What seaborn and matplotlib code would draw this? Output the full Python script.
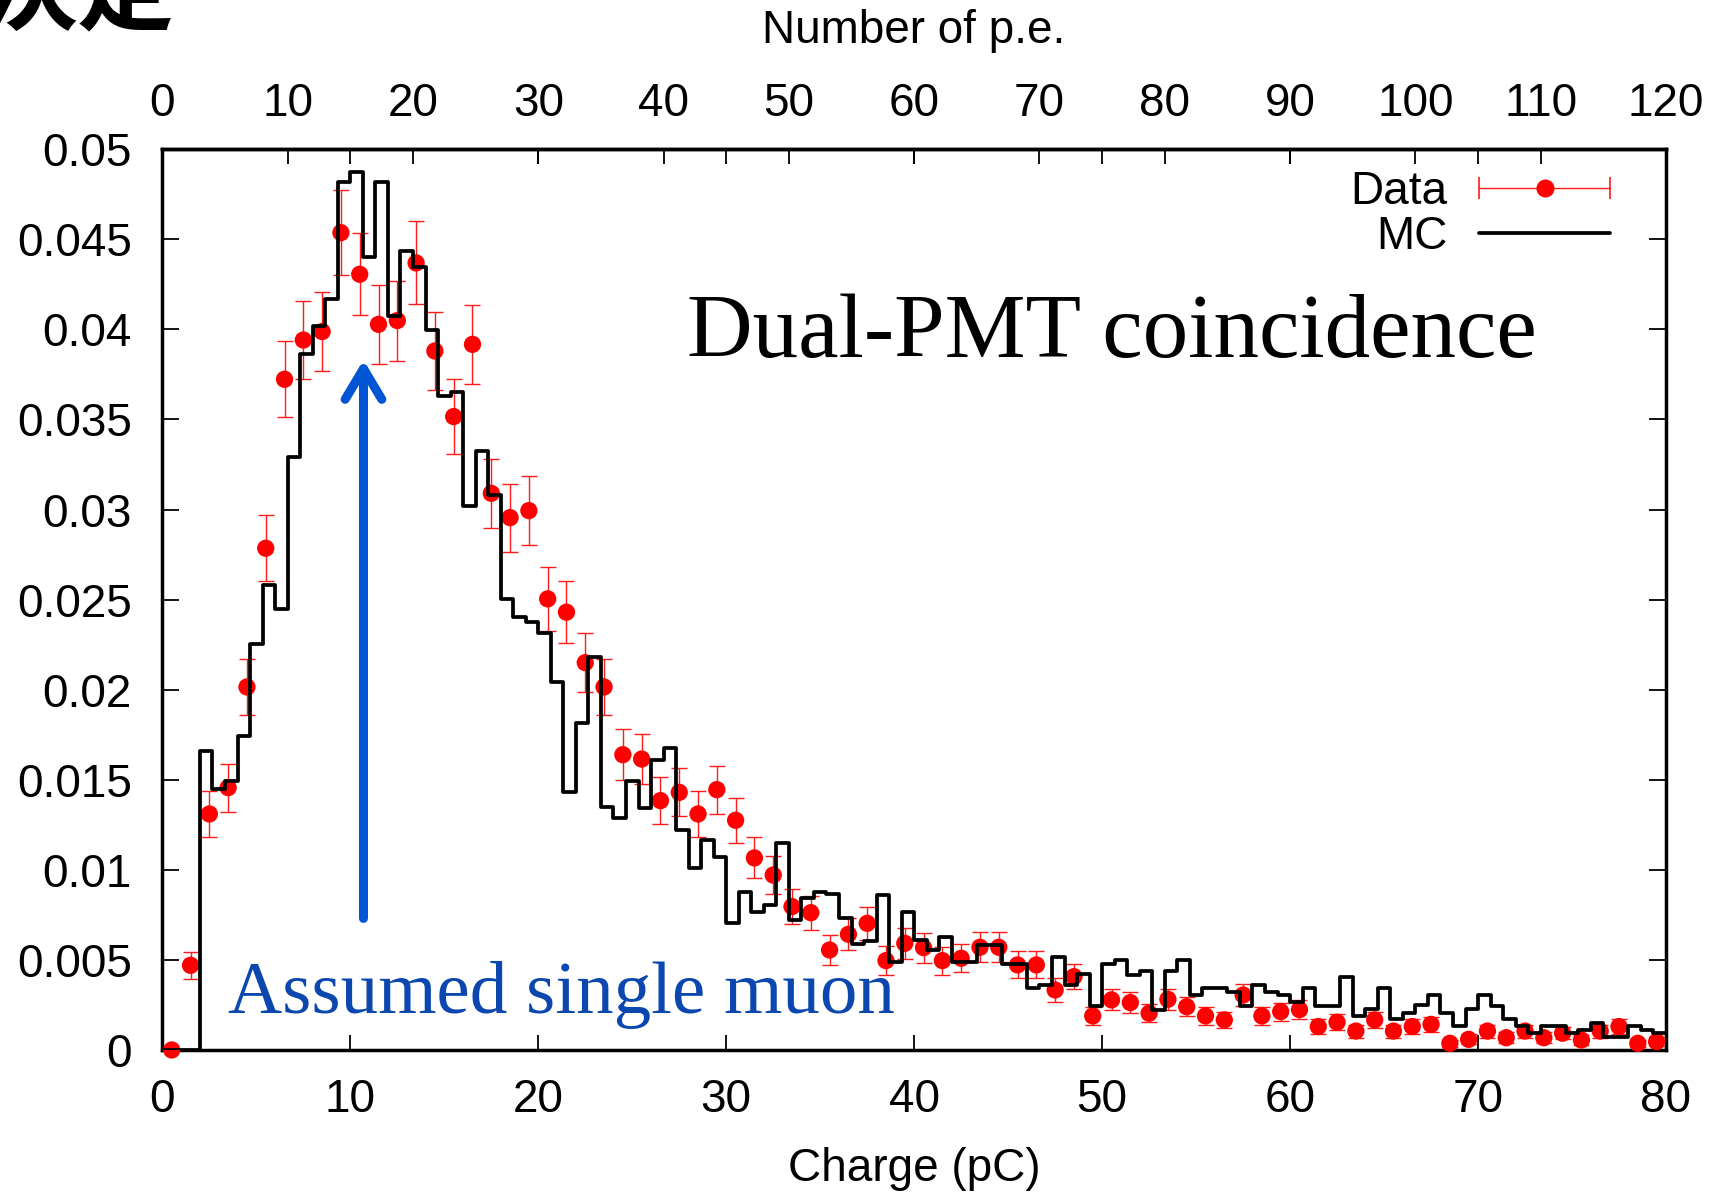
import numpy as np
import pandas as pd
import matplotlib
matplotlib.use("Agg")
import matplotlib.pyplot as plt
import seaborn as sns
from matplotlib.lines import Line2D
from matplotlib.legend_handler import HandlerLine2D, HandlerTuple

# ---------------- data ----------------
# Data: 1 pC bins (centres 0.5 ... 79.5)
data_vals = [0.0, 0.0047, 0.0131, 0.01456, 0.02015, 0.02785, 0.03723, 0.03941, 0.03988, 0.04537,
             0.04306, 0.04028, 0.04049, 0.04369, 0.0388, 0.03516, 0.03917, 0.0309, 0.02955, 0.02994,
             0.02504, 0.0243, 0.0215, 0.02015, 0.01639, 0.01615, 0.01384, 0.0143, 0.0131, 0.01445,
             0.01275, 0.01066, 0.00971, 0.00796, 0.00762, 0.00555, 0.00642, 0.00703, 0.00496, 0.00592,
             0.00568, 0.00496, 0.00509, 0.0057, 0.0057, 0.00472, 0.00472, 0.00333, 0.00407, 0.00189,
             0.00278, 0.00263, 0.00204, 0.00281, 0.0024, 0.00189, 0.00167, 0.00305, 0.00189, 0.00213,
             0.00224, 0.0013, 0.00154, 0.00105, 0.00167, 0.00105, 0.0013, 0.00142, 0.00037, 0.00059,
             0.00105, 0.00068, 0.00105, 0.00068, 0.00093, 0.00055, 0.00105, 0.0013, 0.00037, 0.00046]
data_errs = [0.0, 0.00075, 0.00127, 0.00134, 0.00157, 0.00183, 0.00212, 0.00218, 0.0022, 0.00235,
             0.00228, 0.00218, 0.00222, 0.0023, 0.00217, 0.00207, 0.00219, 0.00193, 0.00189, 0.00191,
             0.00176, 0.00172, 0.00163, 0.00157, 0.00141, 0.00141, 0.0013, 0.00133, 0.00127, 0.00133,
             0.00124, 0.00114, 0.00107, 0.00098, 0.00094, 0.00083, 0.00088, 0.00091, 0.0008, 0.00085,
             0.00083, 0.00078, 0.00077, 0.00083, 0.00083, 0.00075, 0.00075, 0.00064, 0.0007, 0.00048,
             0.00058, 0.00056, 0.0005, 0.00058, 0.00054, 0.00048, 0.00045, 0.0006, 0.00048, 0.0005,
             0.00052, 0.0004, 0.00043, 0.00036, 0.00045, 0.00036, 0.0004, 0.00041, 0.00021, 0.00027,
             0.00036, 0.00029, 0.00036, 0.00029, 0.00034, 0.00026, 0.00036, 0.0004, 0.00021, 0.00024]
data_centres = [i + 0.5 for i in range(80)]

# MC: 1 p.e. bins (120 bins, 1 p.e. = 2/3 pC)
mc_vals = [0.0, 0.0, 0.0, 0.01662, 0.01451, 0.01493, 0.01745, 0.02252, 0.02581, 0.02446,
           0.0329, 0.03862, 0.04019, 0.04169, 0.0482, 0.04876, 0.044, 0.0482, 0.04077, 0.04437,
           0.04349, 0.03997, 0.0363, 0.03655, 0.0302, 0.03327, 0.03081, 0.02504, 0.02405, 0.02378,
           0.02317, 0.02045, 0.01434, 0.01817, 0.0218, 0.01351, 0.01286, 0.01493, 0.01342, 0.0161,
           0.01678, 0.01221, 0.01008, 0.01166, 0.01073, 0.00703, 0.00879, 0.00768, 0.00805, 0.01147,
           0.00722, 0.00842, 0.00879, 0.00864, 0.00731, 0.00587, 0.00605, 0.0086, 0.0049, 0.00768,
           0.00611, 0.00555, 0.00629, 0.0049, 0.0049, 0.00583, 0.00583, 0.00477, 0.00477, 0.00342,
           0.00361, 0.00514, 0.00361, 0.00422, 0.00244, 0.00477, 0.005, 0.00416, 0.0044, 0.00222,
           0.0044, 0.005, 0.00305, 0.00342, 0.00342, 0.00324, 0.00244, 0.00361, 0.00324, 0.00305,
           0.00268, 0.00342, 0.00244, 0.00244, 0.00403, 0.00189, 0.00226, 0.00342, 0.0017, 0.00207,
           0.0025, 0.00305, 0.00207, 0.00133, 0.00226, 0.00305, 0.00244, 0.0017, 0.00133, 0.00093,
           0.00133, 0.00133, 0.00093, 0.00111, 0.00148, 0.00074, 0.00074, 0.00133, 0.00111, 0.00093]
PE_PER_PC = 1.5
mc_edges = [k / PE_PER_PC for k in range(121)]
mc_centres = [(k + 0.5) / PE_PER_PC for k in range(120)]

x_ticks = [0, 10, 20, 30, 40, 50, 60, 70, 80]
pe_ticks = [0, 10, 20, 30, 40, 50, 60, 70, 80, 90, 100, 110, 120]
y_ticks = [0, 0.005, 0.01, 0.015, 0.02, 0.025, 0.03, 0.035, 0.04, 0.045, 0.05]
y_labels = ["0", "0.005", "0.01", "0.015", "0.02", "0.025", "0.03", "0.035", "0.04", "0.045", "0.05"]

arrow_x = 10.7
arrow_y0, arrow_y1 = 0.0073, 0.0383

# ---------------- style ----------------
sns.set_theme(style="white")
plt.rcParams["font.family"] = ["Liberation Sans", "DejaVu Sans"]
for k in ["text.color", "axes.labelcolor", "xtick.color", "ytick.color", "axes.edgecolor"]:
    plt.rcParams[k] = "black"
FS = 33

fig = plt.figure(figsize=(17.2, 11.93), dpi=100)
ax = fig.add_axes([0.0944, 0.1199, 0.9686 - 0.0944, 0.8749 - 0.1199])

df_mc = pd.DataFrame({"x": mc_centres, "w": mc_vals})
df_data = pd.DataFrame({"x": data_centres, "y": data_vals, "e": data_errs})

# Data error bars + points
ax.errorbar(df_data["x"], df_data["y"], yerr=df_data["e"], fmt="none",
            ecolor="#ff1a1a", elinewidth=1.0, capsize=5.8, capthick=1.0, zorder=2)
sns.scatterplot(data=df_data, x="x", y="y", ax=ax, color="#ff0000", s=155,
                edgecolor="none", zorder=3, clip_on=False, legend=False)

# MC histogram (step)
sns.histplot(data=df_mc, x="x", weights="w", bins=mc_edges, element="step",
             fill=False, color="black", linewidth=2.7, ax=ax, zorder=4)

ax.set_xlim(0, 80)
ax.set_ylim(0, 0.05)
ax.set_xticks(x_ticks)
ax.set_xticklabels([str(t) for t in x_ticks])
ax.set_yticks(y_ticks)
ax.set_yticklabels(y_labels)
ax.set_xlabel("Charge (pC)", fontsize=FS, labelpad=18, color="black")
ax.set_ylabel("")

for s in ax.spines.values():
    s.set_linewidth(2.5)
    s.set_color("black")

ax.tick_params(axis="x", which="both", direction="in", length=11, width=1.3,
               top=True, bottom=True, labeltop=False, labelsize=FS, pad=20,
               colors="black", labelcolor="black")
ax.tick_params(axis="y", which="both", direction="in", length=12, width=1.3,
               left=True, right=True, labelsize=FS, pad=22, colors="black", labelcolor="black")

secax = ax.secondary_xaxis("top", functions=(lambda x: x * PE_PER_PC, lambda p: p / PE_PER_PC))
secax.set_xticks(pe_ticks)
secax.set_xticklabels([str(t) for t in pe_ticks])
secax.tick_params(axis="x", direction="in", length=11, width=1.3, labelsize=FS, pad=17,
                  colors="black", labelcolor="black")
secax.spines["top"].set_linewidth(2.5)
secax.set_xlabel("Number of p.e.", fontsize=FS, labelpad=28, color="black")

# Arrow and annotations
ax.annotate("", xy=(arrow_x, arrow_y1), xytext=(arrow_x, arrow_y0),
            arrowprops=dict(arrowstyle="->,head_length=0.5,head_width=0.3", lw=6.5,
                            color="#0055d4", shrinkA=0, shrinkB=0, mutation_scale=44,
                            joinstyle="round", capstyle="round"), zorder=5)

fig.text(687 / 1720, 1 - 357 / 1193, "Dual-PMT coincidence", fontsize=65.5,
         family=["Liberation Serif", "DejaVu Serif"], color="black", ha="left", va="baseline")
fig.text(228 / 1720, 1 - 1013 / 1193, "Assumed single muon", fontsize=54,
         family=["Liberation Serif", "DejaVu Serif"], color="#0b47ae", ha="left", va="baseline")

# Cropped slide title fragment at top-left
fig.text(175 / 1720, 1 - 22 / 1193, "決定", fontsize=70, fontweight="bold",
         family=["Noto Sans CJK JP", "DejaVu Sans"], color="black", ha="right", va="baseline")

# Legend
cap_line = Line2D([], [], color="#ff1a1a", lw=1.0, marker="|", markersize=16, markeredgewidth=1.2)
dot = Line2D([], [], color="#ff0000", lw=0, marker="o", markersize=12)
mc_line = Line2D([], [], color="black", lw=2.7)
leg = ax.legend([(cap_line, dot), mc_line], ["Data", "MC"],
                handler_map={cap_line: HandlerLine2D(numpoints=2, marker_pad=0),
                             dot: HandlerLine2D(numpoints=1),
                             tuple: HandlerTuple(ndivide=1, pad=0)},
                loc="upper right", bbox_to_anchor=(0.9628, 0.977), borderaxespad=0, borderpad=0,
                markerfirst=False, frameon=False, fontsize=FS, handlelength=2.85,
                handletextpad=0.7, labelspacing=0.02)

fig.savefig("out.png", dpi=100)
